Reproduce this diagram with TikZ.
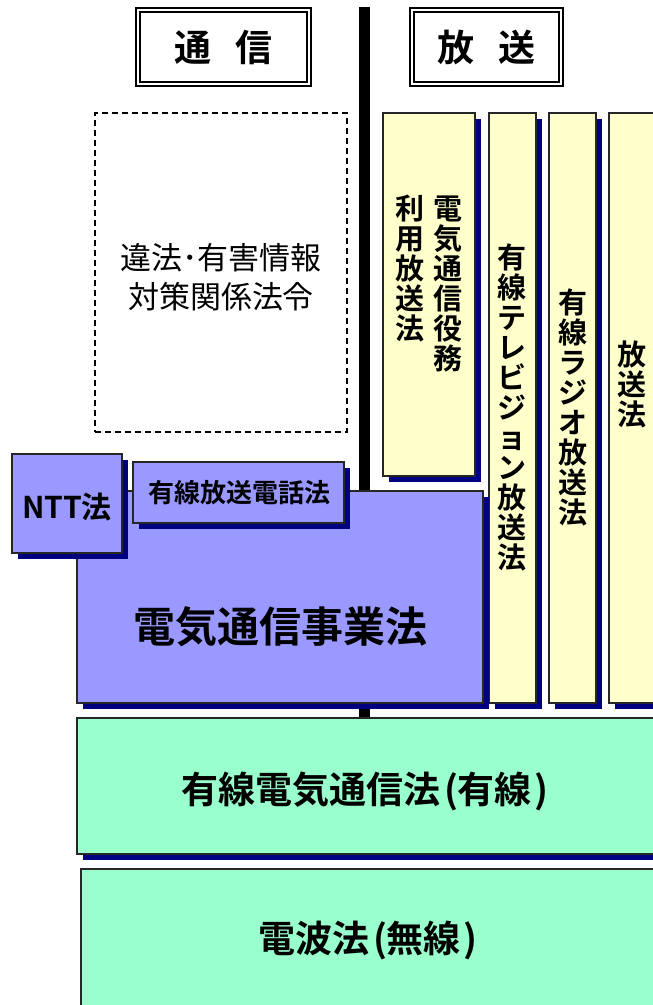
\documentclass[tikz,border=0pt]{standalone}
\usepackage{fontspec}
\newfontfamily\jp{Noto Sans CJK JP}
\newfontfamily\jpb{Noto Sans CJK JP Bold}
\usetikzlibrary{shadows,fit}
\definecolor{navyshadow}{RGB}{0,0,128}
\definecolor{lawblue}{RGB}{153,153,255}
\definecolor{lawyellow}{RGB}{255,255,204}
\definecolor{lawgreen}{RGB}{153,255,204}
\tikzset{
  lawbox/.style={draw=black!85, line width=1.3pt, inner sep=0pt,
    general shadow={fill=navyshadow, shadow xshift=6pt, shadow yshift=-6pt}},
  headbox/.style={draw=black, double=white, double distance=2.6pt, line width=1.4pt, inner sep=0pt},
  dashbox/.style={draw=black, dashed, line width=1.1pt, dash pattern=on 6pt off 4pt, inner sep=0pt},
  btext/.style={inner sep=0pt, align=center, font=\jpb\fontsize{#1}{#1}\selectfont},
  rtext/.style={inner sep=0pt, align=center, font=\jp\fontsize{#1}{#1}\selectfont},
  vtext/.style={inner sep=0pt, align=center, font=\jpb\fontsize{29}{30}\selectfont},
}
\begin{document}
\begin{tikzpicture}[x=1pt,y=-1pt]
\useasboundingbox (0,0) rectangle (653,1005);
\clip (0,0) rectangle (653,1005);
% dividing line
\coordinate (divtop) at (364,7);
\coordinate (divbot) at (364,720);
\draw[line width=11pt] (divtop) -- (divbot);
% headers
\node[headbox, fit={(138,10) (309,84)}] (hcom) {};
\node[btext=37] (hcomt) at (hcom.center) {通\hspace{25pt}信};
\node[headbox, fit={(412,10) (561,84)}] (hbro) {};
\node[btext=37] (hbrot) at (hbro.center) {放\hspace{25pt}送};
% dashed box
\node[dashbox, fit={(95,113) (347,432)}] (illegal) {};
\node[inner sep=0pt, align=center, font=\jp\fontsize{31}{39}\selectfont] (illegalt) at (221,277) {違法･有害情報\\対策関係法令};
% yellow columns
\node[lawbox, fill=lawyellow, fit={(383,113) (475,476)}] (c1) {};
\node[lawbox, fill=lawyellow, fit={(489,113) (536,703)}] (c2) {};
\node[lawbox, fill=lawyellow, fit={(549,113) (596,703)}] (c3) {};
\node[lawbox, fill=lawyellow, fit={(609,113) (680,703)}] (c4) {};
\node[vtext] (c1r) at (448,284) {電\\気\\通\\信\\役\\務};
\node[vtext] (c1l) at (410,269) {利\\用\\放\\送\\法};
\node[vtext] (c2t) at (512,407) {有\\線\\テ\\レ\\ビ\\ジ\\ョ\\ン\\放\\送\\法};
\node[vtext] (c3t) at (573,407) {有\\線\\ラ\\ジ\\オ\\放\\送\\法};
\node[vtext] (c4t) at (632,384) {放\\送\\法};
% blue boxes
\node[lawbox, fill=lawblue, fit={(77,491) (483,703)}] (biz) {};
\node[btext=42] (bizt) at (280,627) {電気通信事業法};
\node[lawbox, fill=lawblue, fit={(12,454) (122,553)}] (ntt) {};
\node[btext=30] (nttt) at (67,507) {NTT法};
\node[lawbox, fill=lawblue, fit={(133,462) (344,523)}] (tel) {};
\node[btext=26] (telt) at (239,493) {有線放送電話法};
% green boxes
\node[lawbox, fill=lawgreen, fit={(77,718) (680,854)}] (wired) {};
\node[btext=37] (wiredt) at (365,791) {有線電気通信法\hspace{4pt}(有線\hspace{3pt})};
\node[lawbox, fill=lawgreen, fit={(81,869) (680,1020)}] (radio) {};
\node[btext=37] (radiot) at (368,940) {電波法\hspace{4pt}(無線\hspace{3pt})};
\end{tikzpicture}
\end{document}
